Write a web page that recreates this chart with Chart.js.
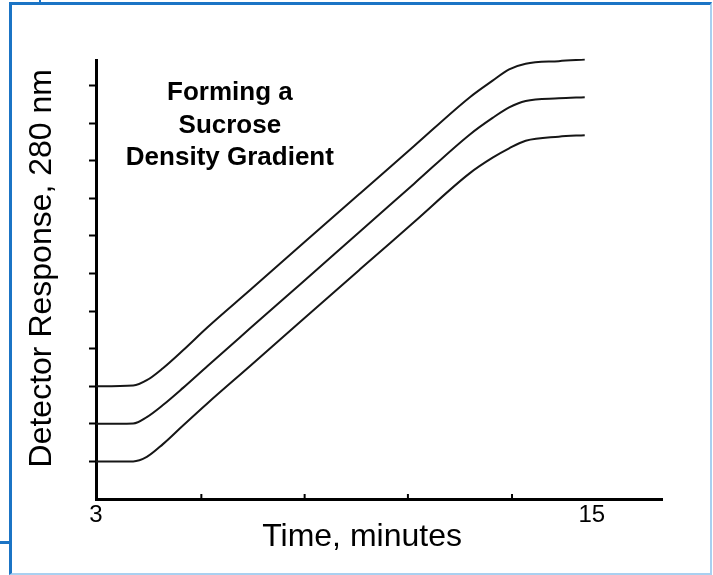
<!DOCTYPE html>
<html>
<head>
<meta charset="utf-8">
<script src="https://cdn.jsdelivr.net/npm/chart.js@4.4.1/dist/chart.umd.min.js"></script>
<style>
  html, body { margin: 0; padding: 0; background: #fff; }
  body { width: 713px; height: 575px; position: relative; overflow: hidden; }
  .frame {
    position: absolute; left: 9px; top: 2px; width: 703px; height: 573px;
    box-sizing: border-box;
    border-left: 3px solid #1b74c5; border-top: 3px solid #1b74c5;
    border-right: 2px solid #a9d0f0; border-bottom: 2px solid #a9d0f0;
  }
  .stub-top { position: absolute; left: 39px; top: 0; width: 2px; height: 3px; background: #1b74c5; }
  .stub-left { position: absolute; left: 0; top: 541px; width: 10px; height: 3px; background: #1b74c5; }
  .wrap { position: absolute; left: 0; top: 0; width: 713px; height: 575px; }
</style>
</head>
<body>
<div class="frame"></div>
<div class="stub-top"></div>
<div class="stub-left"></div>
<div class="wrap"><canvas id="gradChart"></canvas></div>
<script>
// tempo (min) e respostas
var times = [3, 3.9, 4.23, 4.62, 5.1, 5.7, 6.73, 8, 9.39, 10.7, 12.05, 12.6, 13.0, 13.4, 14.2, 14.83];
var respTop = [3.0, 3.02, 3.16, 3.48, 3.95, 4.57, 5.56, 6.79, 8.13, 9.39, 10.69, 11.13, 11.43, 11.58, 11.65, 11.69];
var respMid = [2.0, 2.01, 2.18, 2.5, 2.95, 3.54, 4.54, 5.77, 7.12, 8.39, 9.7, 10.14, 10.42, 10.59, 10.66, 10.69];
var respLow = [1.0, 1.0, 1.12, 1.46, 1.95, 2.55, 3.54, 4.77, 6.11, 7.37, 8.67, 9.08, 9.33, 9.53, 9.64, 9.68];

var xLabelTicks = [3, 15];
var xMarks = [5.55, 8.05, 10.55, 13.07];
var yTicks = [1, 2, 3, 4, 5, 6, 7, 8, 9, 10, 11];
var noteLines = ['Forming a', 'Sucrose', 'Density Gradient'];
var xTitle = 'Time, minutes';
var yTitle = 'Detector Response, 280 nm';

var FONT = '"Liberation Sans", Arial, Helvetica, sans-serif';

function toPoints(ys) {
    return times.map(function (t, i) { return { x: t, y: ys[i] }; });
}

function lineSet(ys) {
    return {
        data: toPoints(ys),
        borderColor: '#161616',
        borderWidth: 2,
        pointRadius: 0,
        fill: false,
        cubicInterpolationMode: 'monotone',
        clip: false
    };
}

// marcas internas do eixo x, títulos dos eixos e o texto do gráfico
var extras = {
    id: 'extras',
    afterDraw: function (chart) {
        var ctx = chart.ctx;
        var xs = chart.scales.x;
        var ys = chart.scales.y;
        var area = chart.chartArea;
        ctx.save();
        ctx.strokeStyle = '#000';
        ctx.lineWidth = 2;
        xMarks.forEach(function (v) {
            var px = xs.getPixelForValue(v);
            ctx.beginPath();
            ctx.moveTo(px, area.bottom);
            ctx.lineTo(px, area.bottom - 5);
            ctx.stroke();
        });

        ctx.fillStyle = '#000';
        ctx.textAlign = 'center';

        // título do eixo x
        ctx.font = '32px ' + FONT;
        ctx.textBaseline = 'middle';
        ctx.fillText(xTitle, xs.getPixelForValue(9.44), area.bottom + 38.5);

        // título do eixo y (girado)
        ctx.save();
        ctx.translate(area.left - 54, ys.getPixelForValue(6.14));
        ctx.rotate(-Math.PI / 2);
        ctx.fillText(yTitle, 0, 0);
        ctx.restore();

        ctx.font = 'bold 26px ' + FONT;
        ctx.textBaseline = 'alphabetic';
        var cx = xs.getPixelForValue(6.24);
        var by = ys.getPixelForValue(10.61);
        noteLines.forEach(function (txt, i) {
            ctx.fillText(txt, cx, by + i * 32.5);
        });
        ctx.restore();
    }
};

document.addEventListener('DOMContentLoaded', function () {
    var ctx = document.getElementById('gradChart');
    new Chart(ctx, {
        type: 'line',
        data: {
            datasets: [lineSet(respTop), lineSet(respMid), lineSet(respLow)]
        },
        options: {
            responsive: true,
            maintainAspectRatio: false,
            animation: false,
            layout: {
                padding: { left: 89, top: 60, right: 51, bottom: 43 }
            },
            scales: {
                x: {
                    type: 'linear',
                    min: 3,
                    max: 16.7,
                    afterBuildTicks: function (scale) {
                        scale.ticks = xLabelTicks.map(function (v) { return { value: v }; });
                    },
                    border: { display: true, color: '#000', width: 3 },
                    grid: { display: false, drawTicks: false },
                    ticks: {
                        color: '#000',
                        padding: 4.5,
                        maxRotation: 0,
                        font: { family: FONT, size: 24, lineHeight: 1 }
                    },
                    title: { display: false }
                },
                y: {
                    type: 'linear',
                    min: 0,
                    max: 11.68,
                    afterBuildTicks: function (scale) {
                        scale.ticks = yTicks.map(function (v) { return { value: v }; });
                    },
                    border: { display: true, color: '#000', width: 3 },
                    grid: {
                        display: true,
                        drawOnChartArea: false,
                        drawTicks: true,
                        tickLength: 7,
                        tickWidth: 2,
                        tickColor: '#000'
                    },
                    ticks: { display: false },
                    title: { display: false }
                }
            },
            plugins: {
                legend: { display: false },
                tooltip: { enabled: false }
            }
        },
        plugins: [extras]
    });
});
</script>
</body>
</html>
